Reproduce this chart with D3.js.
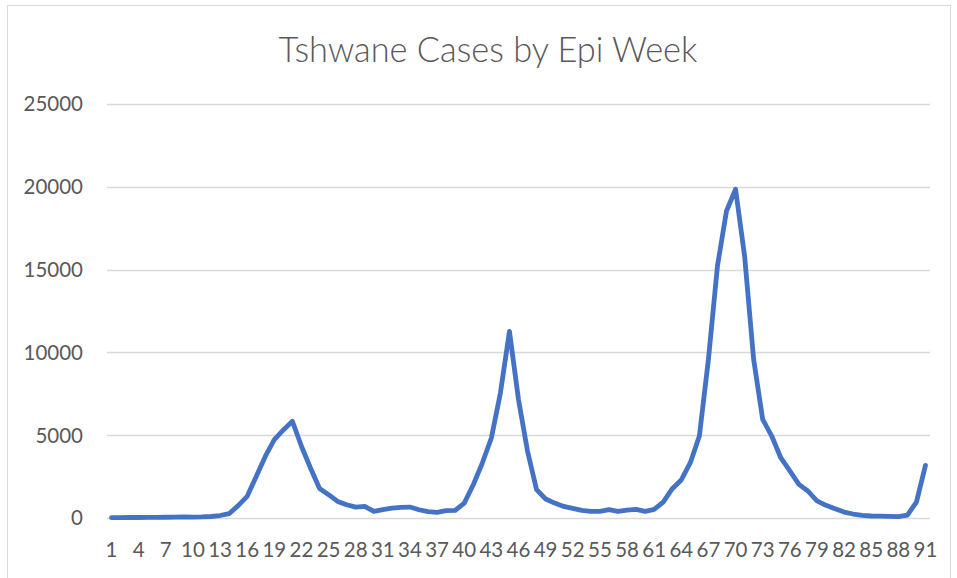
<!DOCTYPE html>
<html>
<head>
<meta charset="utf-8">
<script src="https://cdn.jsdelivr.net/npm/d3@7"></script>
<style>
  html, body { margin: 0; padding: 0; background: #fff; }
  svg { display: block; }
</style>
</head>
<body>
<div class="app"></div>
<script>
// chart data
var title = "Tshwane Cases by Epi Week";
var weeks = d3.range(1, 92);
var cases = [
  20, 25, 30, 30, 35, 40, 45, 55, 60, 55,
  65, 90, 150, 260, 745, 1310, 2500, 3720, 4730, 5320,
  5840, 4330, 3020, 1780, 1410, 1000, 800, 660, 700, 400,
  500, 600, 645, 660, 500, 380, 340, 440, 460, 900,
  2010, 3320, 4830, 7550, 11270, 7150, 4030, 1710, 1150, 900,
  700, 580, 460, 400, 400, 500, 400, 470, 520, 400,
  520, 960, 1770, 2300, 3340, 4950, 9580, 15220, 18540, 19850,
  15820, 9580, 5960, 4950, 3640, 2840, 2030, 1630, 1030, 765,
  565, 360, 240, 160, 120, 110, 100, 80, 180, 960,
  3180
];
var yTicks = [0, 5000, 10000, 15000, 20000, 25000];
var xTickLabels = weeks.filter(function(w) { return (w - 1) % 3 === 0; });

var width = 957, height = 578;
var margin = {top: 104, right: 27, bottom: 60, left: 107};
var font = "Lato, 'Open Sans', sans-serif";
var textColor = "#595959";

var svg = d3.select(".app").append("svg")
    .attr("width", width)
    .attr("height", height);

// chart border
svg.append("rect")
    .attr("x", 7.5).attr("y", 5.5)
    .attr("width", 943).attr("height", 580)
    .attr("fill", "#fff")
    .attr("stroke", "#d9d9d9");

var x = d3.scaleBand()
    .domain(weeks)
    .range([margin.left, width - margin.right]);

var y = d3.scaleLinear()
    .domain([0, 25000])
    .range([height - margin.bottom, margin.top]);

// gridlines
svg.append("g")
  .selectAll("line")
  .data(yTicks)
  .enter().append("line")
    .attr("x1", margin.left)
    .attr("x2", width - margin.right)
    .attr("y1", function(d) { return Math.round(y(d)) + 0.5; })
    .attr("y2", function(d) { return Math.round(y(d)) + 0.5; })
    .attr("stroke", "#d9d9d9")
    .attr("stroke-width", 1.3);

// y axis labels
svg.append("g")
  .selectAll("text")
  .data(yTicks)
  .enter().append("text")
    .attr("x", 83)
    .attr("y", function(d) { return y(d); })
    .attr("dy", "0.36em")
    .attr("text-anchor", "end")
    .attr("font-family", font)
    .attr("font-size", 20.5)
    .attr("fill", textColor)
    .text(function(d) { return d; });

// x axis labels
svg.append("g")
  .selectAll("text")
  .data(xTickLabels)
  .enter().append("text")
    .attr("x", function(d) { return x(d) + x.bandwidth() / 2; })
    .attr("y", 557)
    .attr("text-anchor", "middle")
    .attr("font-family", font)
    .attr("font-size", 20.5)
    .attr("fill", textColor)
    .text(function(d) { return d; });

// the line
var valueline = d3.line()
    .x(function(d, i) { return x(weeks[i]) + x.bandwidth() / 2; })
    .y(function(d) { return y(d); });

svg.append("path")
    .datum(cases)
    .attr("fill", "none")
    .attr("stroke", "#4472c4")
    .attr("stroke-width", 4.8)
    .attr("stroke-linejoin", "round")
    .attr("stroke-linecap", "round")
    .attr("d", valueline);

// title, sized to fit the reference width
var t = svg.append("text")
    .attr("x", 488)
    .attr("y", 62)
    .attr("text-anchor", "middle")
    .attr("font-family", font)
    .attr("font-weight", 300)
    .attr("font-size", 32)
    .attr("fill", textColor)
    .text(title);
var w = t.node().getComputedTextLength();
t.attr("font-size", 32 * 419 / w);
</script>
</body>
</html>
